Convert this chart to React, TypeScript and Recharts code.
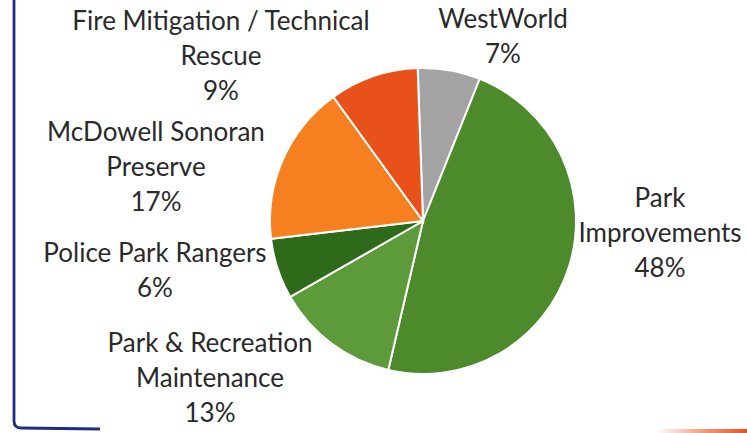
import React from 'react'
import { PieChart, Pie, Cell } from 'recharts'

// slice names, with the line breaks the data labels use
const CATEGORIES = [
    'WestWorld',
    'Park\nImprovements',
    'Park & Recreation\nMaintenance',
    'Police Park Rangers',
    'McDowell Sonoran\nPreserve',
    'Fire Mitigation / Technical\nRescue',
]
const SHARES = [6.6, 47.6, 13.1, 6.4, 16.9, 9.4]
const COLORS = ['#a3a3a3', '#4c8a2c', '#5d9a3a', '#2f6a1a', '#f6801f', '#e8511a']

// where each label block sits, relative to the pie centre (Excel best-fit layout)
const LABEL_OFFSETS: [number, number][] = [
    [80, -193],
    [237, -14],
    [-213, 131],
    [-268, 41],
    [-267, -80],
    [-202, -191],
]

const data = CATEGORIES.map((name, i) => ({ name, value: SHARES[i] }))

const FONT = 'Lato, "Open Sans", sans-serif'
const LINE_H = 35

function renderLabel(props: any) {
    const { cx, cy, index, percent, name } = props
    const [dx, dy] = LABEL_OFFSETS[index]
    const lines = [...String(name).split('\n'), `${Math.round(percent * 100)}%`]
    return (
        <text x={cx + dx} y={cy + dy} textAnchor="middle" fill="#2a2a2a"
            fontFamily={FONT} fontSize={26}>
            {lines.map((ln, i) => (
                <tspan key={i} x={cx + dx} dy={i === 0 ? 0 : LINE_H}>{ln}</tspan>
            ))}
        </text>
    )
}

export default function App() {
    return (
        <div style={{ position: 'absolute', left: 0, top: 0, width: 747, height: 433, background: '#fff', overflow: 'hidden' }}>
            {/* page frame around the chart */}
            <svg width={747} height={433} style={{ position: 'absolute', left: 0, top: 0 }}>
                <defs>
                    <linearGradient id="orangeEdge" x1="0" y1="0" x2="1" y2="0">
                        <stop offset="0%" stopColor="#e8511a" stopOpacity={0} />
                        <stop offset="55%" stopColor="#e8511a" stopOpacity={0.6} />
                        <stop offset="100%" stopColor="#e8511a" stopOpacity={1} />
                    </linearGradient>
                </defs>
                <path d="M14 0 L14 421 Q14 428 21 428 L100 429" fill="none" stroke="#1f2c88" strokeWidth={2.8} />
                <rect x={657} y={429} width={90} height={4} fill="url(#orangeEdge)" />
            </svg>
            <div style={{ position: 'absolute', left: 0, top: 0 }}>
                <PieChart width={747} height={433} margin={{ top: 0, right: 0, bottom: 0, left: 0 }}>
                    <Pie
                        data={data}
                        dataKey="value"
                        nameKey="name"
                        cx={423}
                        cy={221}
                        outerRadius={153}
                        startAngle={92}
                        endAngle={-268}
                        stroke="#ffffff"
                        strokeWidth={2}
                        label={renderLabel}
                        labelLine={false}
                        isAnimationActive={false}
                    >
                        {data.map((_, i) => (
                            <Cell key={i} fill={COLORS[i]} />
                        ))}
                    </Pie>
                </PieChart>
            </div>
        </div>
    )
}
